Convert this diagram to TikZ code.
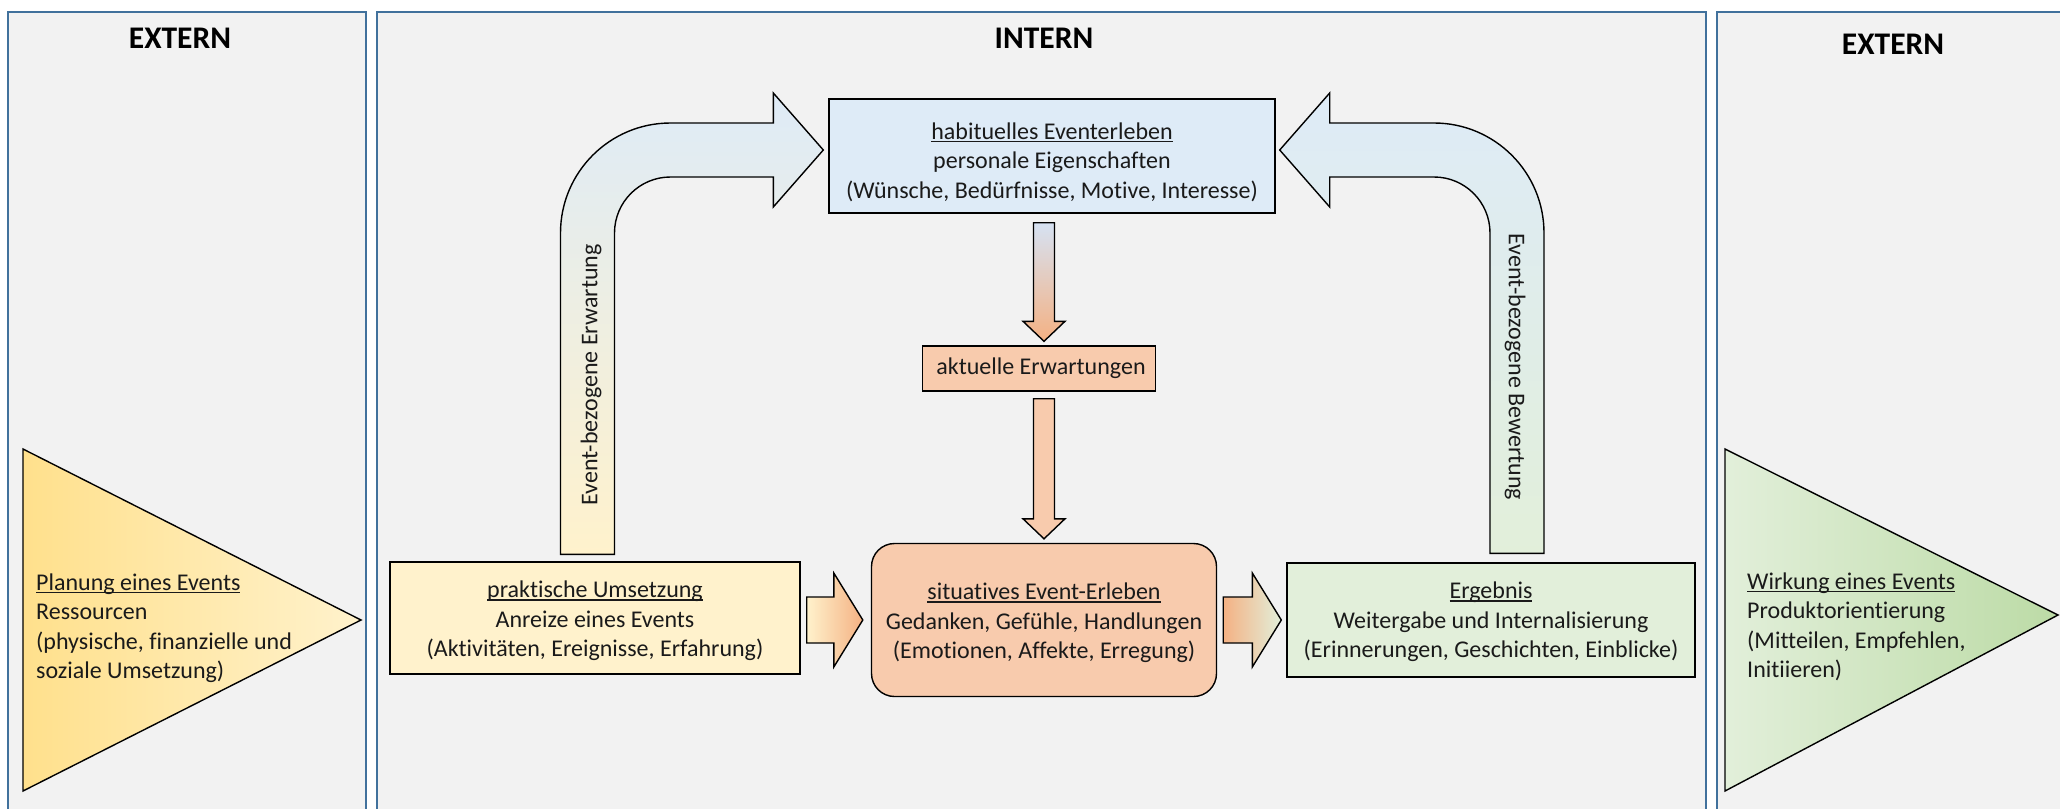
\documentclass[tikz,border=0pt]{standalone}
\usepackage{fontspec}
\setmainfont{Carlito}[Ligatures=NoCommon]
\usetikzlibrary{calc}

\definecolor{panelfill}{RGB}{242,242,242}
\definecolor{panelline}{RGB}{65,113,156}
\definecolor{bluefill}{RGB}{222,235,247}
\definecolor{bluedeep}{RGB}{214,226,243}
\definecolor{yellowfill}{RGB}{255,242,204}
\definecolor{golddeep}{RGB}{255,224,140}
\definecolor{goldmid}{RGB}{255,238,190}
\definecolor{orangefill}{RGB}{248,203,173}
\definecolor{orangedeep}{RGB}{244,177,131}
\definecolor{greenfill}{RGB}{226,239,218}
\definecolor{greenmid}{RGB}{212,232,199}
\definecolor{greendeep}{RGB}{188,219,166}
\definecolor{inktext}{RGB}{26,26,26}

\newcommand{\txtfont}{\fontsize{24}{29.5}\selectfont}
\newcommand{\ulx}[1]{\leavevmode\setbox0\hbox{#1}\rlap{\rule[-3pt]{\wd0}{1.5pt}}\box0}

\begin{document}
\begin{tikzpicture}[x=1pt,y=-1pt,
  panel/.style={fill=panelfill, draw=panelline, line width=2pt},
  paneltitle/.style={font=\fontsize{31.5}{36}\selectfont\bfseries, text=black},
  infobox/.style={draw=black, line width=1.4pt, inner sep=0pt},
  boxtext/.style={align=center, font=\txtfont, text=inktext, inner sep=0pt},
  outline/.style={draw=black, line width=1.4pt},
  sidetext/.style={anchor=west, align=left, font=\txtfont, text=inktext, inner sep=0pt},
  arrowtext/.style={font=\txtfont, text=inktext, inner sep=0pt}
]
\useasboundingbox (0,0) rectangle (2060,808);
\fill[white] (0,0) rectangle (2060,808);
\clip (0,0) rectangle (2060,808);

% three columns
\draw[panel] (8,12) rectangle (366,840);
\draw[panel] (377,12) rectangle (1706,840);
\draw[panel] (1717,12) rectangle (2080,840);
\node[paneltitle] (extL) at (180,38.5) {EXTERN};
\node[paneltitle] (intM) at (1044,38.5) {INTERN};
\node[paneltitle] (extR) at (1893,44.5) {EXTERN};

% outer triangles
\path[outline, left color=golddeep, middle color=goldmid, right color=yellowfill]
  (23,449) -- (361,620) -- (23,791) -- cycle;
\node[sidetext] (plan) at (36,628)
  {\ulx{Planung eines Events}\\Ressourcen\\(physische, finanzielle und\\soziale Umsetzung)};

\path[outline, left color=greenfill, middle color=greenmid, right color=greendeep]
  (1725,449) -- (2058,615) -- (1725,791) -- cycle;
\node[sidetext] (wirk) at (1747,627)
  {\ulx{Wirkung eines Events}\\Produktorientierung\\(Mitteilen, Empfehlen,\\Initiieren)};

% boxes
\node[infobox, fill=bluefill, minimum width=446pt, minimum height=114pt] (hab) at (1052,156) {};
\node[boxtext] (habtxt) at ($(hab.center)+(0,6)$)
  {\ulx{habituelles Eventerleben}\\personale Eigenschaften\\(Wünsche, Bedürfnisse, Motive, Interesse)};
\node[infobox, fill=orangefill, minimum width=233pt, minimum height=45pt] (akt) at (1039,368.5) {};
\node[boxtext] (akttxt) at ($(akt.center)+(2,0)$) {aktuelle Erwartungen};
\node[infobox, fill=orangefill, rounded corners=23pt, minimum width=345pt, minimum height=153pt] (sit) at (1044,620) {};
\node[boxtext] (sittxt) at ($(sit.center)+(0,3)$)
  {\ulx{situatives Event-Erleben}\\Gedanken, Gefühle, Handlungen\\(Emotionen, Affekte, Erregung)};
\node[infobox, fill=yellowfill, minimum width=410pt, minimum height=112pt] (prak) at (595,618) {};
\node[boxtext] (praktxt) at ($(prak.center)+(0,3)$)
  {\ulx{praktische Umsetzung}\\Anreize eines Events\\(Aktivitäten, Ereignisse, Erfahrung)};
\node[infobox, fill=greenfill, minimum width=408pt, minimum height=114pt] (erg) at (1491,620) {};
\node[boxtext] (ergtxt) at ($(erg.center)+(0,2)$)
  {\ulx{Ergebnis}\\Weitergabe und Internalisierung\\(Erinnerungen, Geschichten, Einblicke)};

% anchor points of the block arrows
\coordinate (e1) at ($(prak.north)+(-7.5,-7)$);
\coordinate (e2) at ($(hab.west)+(-5,-6)$);
\coordinate (e3) at ($(erg.north)+(26,-9)$);
\coordinate (e4) at ($(hab.east)+(4,-6)$);
\coordinate (c1) at ($(hab.south)+(-8,9)$);
\coordinate (c2) at ($(akt.north)+(5,-4)$);
\coordinate (d1) at ($(akt.south)+(5,7)$);
\coordinate (d2) at ($(sit.north)+(0,-4)$);
\coordinate (a1) at ($(prak.east)+(6,2)$);
\coordinate (a2) at ($(sit.west)+(-8,0)$);
\coordinate (b1) at ($(sit.east)+(6,0)$);
\coordinate (b2) at ($(erg.west)+(-5,0)$);

% bent arrow: praktische Umsetzung -> habituelles Eventerleben
\path[outline, top color=bluefill, bottom color=yellowfill] let \p1=(e1), \p2=(e2) in
  (\x1-27pt,\y1) -- (\x1-27pt,\y2-83pt)
  .. controls (\x1-27pt,\y2-22.25pt) and (\x1+22.25pt,\y2+27pt) .. (\x1+83pt,\y2+27pt)
  -- (\x2-50pt,\y2+27pt) -- (\x2-50pt,\y2+57pt) -- (\x2,\y2) -- (\x2-50pt,\y2-57pt)
  -- (\x2-50pt,\y2-27pt) -- (\x1+83pt,\y2-27pt)
  .. controls (\x1+52.07pt,\y2-27pt) and (\x1+27pt,\y2-52.07pt) .. (\x1+27pt,\y2-83pt)
  -- (\x1+27pt,\y1) -- cycle;
\node[arrowtext, rotate=90] (erw) at (591,375) {Event-bezogene Erwartung};

% bent arrow: Ergebnis -> habituelles Eventerleben
\path[outline, top color=bluefill, bottom color=greenfill] let \p1=(e3), \p2=(e4) in
  (\x1+27pt,\y1) -- (\x1+27pt,\y2-83pt)
  .. controls (\x1+27pt,\y2-22.25pt) and (\x1-22.25pt,\y2+27pt) .. (\x1-83pt,\y2+27pt)
  -- (\x2+50pt,\y2+27pt) -- (\x2+50pt,\y2+57pt) -- (\x2,\y2) -- (\x2+50pt,\y2-57pt)
  -- (\x2+50pt,\y2-27pt) -- (\x1-83pt,\y2-27pt)
  .. controls (\x1-52.07pt,\y2-27pt) and (\x1-27pt,\y2-52.07pt) .. (\x1-27pt,\y2-83pt)
  -- (\x1-27pt,\y1) -- cycle;
\node[arrowtext, rotate=-90] (bew) at (1515,367) {Event-bezogene Bewertung};

% downward arrows
\path[outline, top color=bluedeep, bottom color=orangedeep] let \p1=(c1), \p2=(c2) in
  (\x1-10.5pt,\y1) -- (\x1-10.5pt,\y2+20pt) -- (\x1-21pt,\y2+20pt) -- (\x1,\y2)
  -- (\x1+21pt,\y2+20pt) -- (\x1+10.5pt,\y2+20pt) -- (\x1+10.5pt,\y1) -- cycle;
\path[outline, fill=orangefill] let \p1=(d1), \p2=(d2) in
  (\x1-10.5pt,\y1) -- (\x1-10.5pt,\y2+20pt) -- (\x1-21pt,\y2+20pt) -- (\x1,\y2)
  -- (\x1+21pt,\y2+20pt) -- (\x1+10.5pt,\y2+20pt) -- (\x1+10.5pt,\y1) -- cycle;

% horizontal arrows
\path[outline, left color=yellowfill, right color=orangedeep] let \p1=(a1), \p2=(a2) in
  (\x1,\y1+23pt) -- (\x2-29pt,\y1+23pt) -- (\x2-29pt,\y1+47pt) -- (\x2,\y1)
  -- (\x2-29pt,\y1-47pt) -- (\x2-29pt,\y1-23pt) -- (\x1,\y1-23pt) -- cycle;
\path[outline, left color=orangedeep, right color=greenfill] let \p1=(b1), \p2=(b2) in
  (\x1,\y1+23pt) -- (\x2-29pt,\y1+23pt) -- (\x2-29pt,\y1+47pt) -- (\x2,\y1)
  -- (\x2-29pt,\y1-47pt) -- (\x2-29pt,\y1-23pt) -- (\x1,\y1-23pt) -- cycle;
\end{tikzpicture}
\end{document}
